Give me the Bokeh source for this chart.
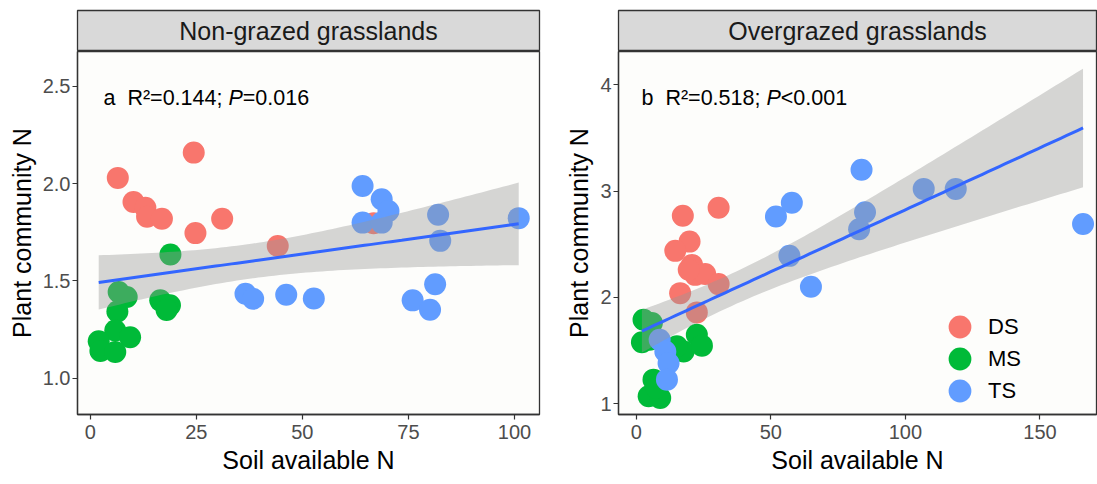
import numpy as np
from bokeh.plotting import figure
from bokeh.layouts import row, column
from bokeh.models import Label, FixedTicker, Legend, LegendItem, Range1d, PrintfTickFormatter
from bokeh.core.properties import value
from bokeh.embed import file_html
from bokeh.resources import INLINE

FONT = "Liberation Sans"
GROUPS = ["DS", "MS", "TS"]
COLORS = {"DS": "#F8766D", "MS": "#00BA38", "TS": "#619CFF"}

# ---------------- Non-grazed grasslands ----------------
ng_ds_x = [24.4, 6.5, 10.2, 13.0, 13.4, 16.9, 31.1, 24.8, 44.2, 66.8]
ng_ds_y = [2.16, 2.03, 1.906, 1.876, 1.83, 1.82, 1.82, 1.746, 1.68, 1.797]
ng_ms_x = [18.9, 6.7, 8.6, 6.4, 5.9, 9.4, 2.0, 2.4, 5.9, 16.5, 18.8, 18.0]
ng_ms_y = [1.636, 1.443, 1.417, 1.343, 1.245, 1.21, 1.19, 1.14, 1.134, 1.40, 1.375, 1.35]
ng_ts_x = [36.6, 38.4, 46.2, 52.7, 76.0, 80.1, 81.3, 82.5, 64.2, 68.7, 70.3, 64.2, 68.7, 82.0, 101.0]
ng_ts_y = [1.434, 1.408, 1.429, 1.41, 1.40, 1.352, 1.483, 1.706, 1.988, 1.92, 1.86, 1.80, 1.80, 1.84, 1.823]

# ---------------- Overgrazed grasslands ----------------
og_ds_x = [17.3, 30.6, 19.8, 14.5, 20.7, 21.9, 25.6, 30.6, 16.3, 22.5, 19.5]
og_ds_y = [2.768, 2.843, 2.524, 2.437, 2.305, 2.211, 2.22, 2.124, 2.039, 1.858, 2.26]
og_ms_x = [2.7, 5.8, 2.1, 5.0, 17.6, 15.1, 22.5, 24.4, 6.4, 4.6, 8.9, 7.5]
og_ms_y = [1.789, 1.757, 1.576, 1.60, 1.49, 1.54, 1.648, 1.545, 1.225, 1.069, 1.053, 1.15]
og_ts_x = [8.7, 10.8, 12.0, 11.4, 51.9, 57.8, 56.9, 64.9, 82.8, 85.0, 83.7, 106.8, 118.7, 166.0]
og_ts_y = [1.60, 1.49, 1.38, 1.225, 2.76, 2.89, 2.39, 2.10, 2.64, 2.80, 3.20, 3.02, 3.02, 2.69]

ng_xticks = [0, 25, 50, 75, 100]
ng_yticks = [1.0, 1.5, 2.0, 2.5]
og_xticks = [0, 50, 100, 150]
og_yticks = [1, 2, 3, 4]

T975 = 2.03
STRIP_H = 51
MAIN_H = 484 - STRIP_H
BOTTOM = 70
ANN_FS = 21.5


def lm_band(xs, ys):
    x = np.asarray(xs, float)
    y = np.asarray(ys, float)
    b1, b0 = np.polyfit(x, y, 1)
    n = len(x)
    xm = x.mean()
    resid = y - (b0 + b1 * x)
    s = np.sqrt((resid ** 2).sum() / (n - 2))
    sxx = ((x - xm) ** 2).sum()
    g = np.linspace(x.min(), x.max(), 80)
    fit = b0 + b1 * g
    se = s * np.sqrt(1.0 / n + (g - xm) ** 2 / sxx)
    return g, fit, fit - T975 * se, fit + T975 * se


def style_axes(p, xticks, yticks, yfmt):
    p.xaxis.ticker = FixedTicker(ticks=xticks)
    p.yaxis.ticker = FixedTicker(ticks=yticks)
    p.yaxis.formatter = PrintfTickFormatter(format=yfmt)
    for ax in (p.xaxis[0], p.yaxis[0]):
        ax.axis_line_color = "#333333"
        ax.axis_line_width = 1.3
        ax.major_tick_line_color = "#333333"
        ax.major_tick_line_width = 1.2
        ax.major_tick_out = 5
        ax.major_tick_in = 0
        ax.minor_tick_line_color = None
        ax.major_label_text_font = FONT
        ax.major_label_text_font_size = "20px"
        ax.major_label_text_color = "#4D4D4D"
        ax.axis_label_text_font = FONT
        ax.axis_label_text_font_size = "25px"
        ax.axis_label_text_font_style = "normal"
        ax.axis_label_text_color = "#000000"
    p.xaxis.major_label_standoff = 5
    p.xaxis.axis_label_standoff = 4
    p.yaxis.major_label_standoff = 2
    p.yaxis.axis_label_standoff = 4
    p.xaxis.axis_label = "Soil available N"
    p.yaxis.axis_label = "Plant community N"
    p.grid.visible = False


def make_panel(title, data, xr, yr, xticks, yticks, yfmt, fl, fr, width,
               letter, r2txt, ptxt, ann_dx, ann_dy, legend_pos=None):
    strip = figure(width=width, height=STRIP_H, x_range=(0, 1), y_range=(0, 1),
                   min_border_left=fl, min_border_right=fr, min_border_top=10,
                   min_border_bottom=0, toolbar_location=None, output_backend="svg",
                   x_axis_location=None, y_axis_location=None,
                   background_fill_color="#D9D9D9", border_fill_color="white",
                   outline_line_color="#333333", outline_line_width=1.3)
    strip.grid.visible = False
    strip.text(x=[0.5], y=[0.5], text=[title], text_align="center",
               text_baseline="middle", text_font=value(FONT),
               text_font_size="25px", text_color="#1A1A1A")

    p = figure(width=width, height=MAIN_H, x_range=Range1d(*xr), y_range=Range1d(*yr),
               min_border_left=fl, min_border_right=fr, min_border_top=0,
               min_border_bottom=BOTTOM, toolbar_location=None, output_backend="svg",
               background_fill_color="#FDFDFB", border_fill_color="white",
               outline_line_color="#333333", outline_line_width=1.3)
    style_axes(p, xticks, yticks, yfmt)

    rends = {}
    allx, ally = [], []
    for g in GROUPS:
        gx, gy = data[g]
        allx += gx
        ally += gy
        rends[g] = p.scatter(gx, gy, size=22, fill_color=COLORS[g],
                             line_color=COLORS[g], line_width=0)
    gxs, fit, lo, hi = lm_band(allx, ally)
    p.varea(x=gxs, y1=lo, y2=hi, fill_color="#999999", fill_alpha=0.4)
    p.line(gxs, fit, line_color="#3366FF", line_width=3)

    # annotation, positioned by pixels from top-left of frame
    fw = width - fl - fr
    fh = MAIN_H - BOTTOM
    ax0 = xr[0] + ann_dx / fw * (xr[1] - xr[0])
    ay0 = yr[1] - ann_dy / fh * (yr[1] - yr[0])
    em = ANN_FS / 1000.0
    segs = [(letter, 0.0, "normal"),
            (r2txt, 1112 * em, "normal"),
            ("P", 5809 * em, "italic"),
            (ptxt, 6476 * em, "normal")]
    for txt, off, sty in segs:
        p.add_layout(Label(x=ax0, y=ay0, x_offset=off, text=txt,
                           text_font=FONT, text_font_size=f"{ANN_FS}px",
                           text_font_style=sty, text_color="#000000",
                           text_baseline="alphabetic", text_align="left"))

    if legend_pos is not None:
        lx, ly0, pitch = legend_pos
        for i, g in enumerate(GROUPS):
            lg = Legend(items=[LegendItem(label=g, renderers=[rends[g]])],
                        location=(lx, ly0 - i * pitch), glyph_width=57, glyph_height=57,
                        spacing=0, padding=0, margin=0, label_standoff=0,
                        label_text_font=FONT, label_text_font_size="22px",
                        label_text_color="#000000",
                        background_fill_alpha=0, border_line_alpha=0)
            p.add_layout(lg)
    return column(strip, p, spacing=0)


left = make_panel("Non-grazed grasslands",
                  {"DS": (ng_ds_x, ng_ds_y), "MS": (ng_ms_x, ng_ms_y), "TS": (ng_ts_x, ng_ts_y)},
                  (-3.0, 105.9), (0.813, 2.68), ng_xticks, ng_yticks, "%.1f",
                  77, 21, 560, "a", "R\u00b2=0.144;", "=0.016", 26, 46)
right = make_panel("Overgrazed grasslands",
                   {"DS": (og_ds_x, og_ds_y), "MS": (og_ms_x, og_ms_y), "TS": (og_ts_x, og_ts_y)},
                   (-6.6, 171.0), (0.897, 4.313), og_xticks, og_yticks, "%d",
                   58, 1, 537, "b", "R\u00b2=0.518;", "<0.001", 23, 46,
                   legend_pos=(313, 59, 32))

layout = row(left, right, spacing=0)
open("out.html", "w").write(file_html(layout, INLINE))
